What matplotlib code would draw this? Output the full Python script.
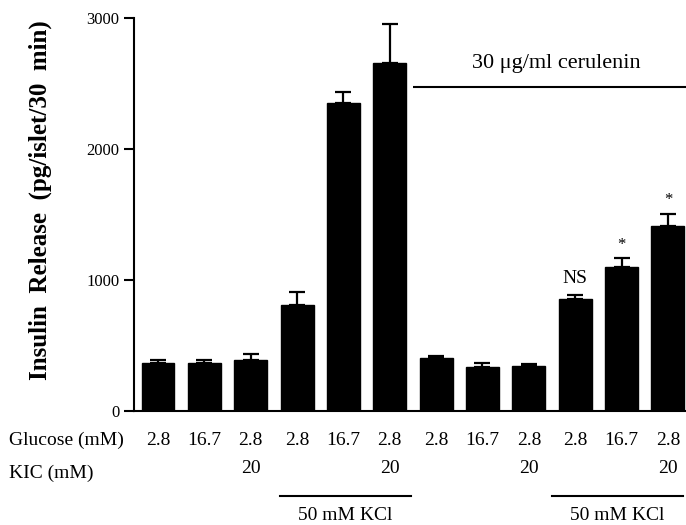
"""Insulin release bar chart, with and without cerulenin."""
import numpy as np
import matplotlib
matplotlib.use('Agg')
import matplotlib.pyplot as plt

plt.rcParams['font.family'] = ['Liberation Serif', 'DejaVu Serif']

# data
glucose = ['2.8', '16.7', '2.8', '2.8', '16.7', '2.8',
           '2.8', '16.7', '2.8', '2.8', '16.7', '2.8']
kic = ['', '', '20', '', '', '20', '', '', '20', '', '', '20']
release = [369, 369, 387, 811, 2349, 2659, 402, 333, 344, 855, 1102, 1410]
sem = [20, 23, 46, 95, 86, 293, 20, 36, 17, 33, 68, 96]
marks = ['', '', '', '', '', '', '', '', '', 'NS', '*', '*']

x = np.arange(len(release))

fig = plt.figure(figsize=(6.86, 5.25), dpi=100)
ax = fig.add_axes([0.1953, 0.2171, 0.8047, 0.7486])

ax.bar(x, release, width=0.71, color='black', edgecolor='black')
ax.errorbar(x, release, yerr=[np.zeros(len(sem)), sem], fmt='none',
            ecolor='black', elinewidth=1.6, capsize=5.5, capthick=1.6)

ax.set_xlim(-0.518, 11.39)
ax.set_ylim(0, 3000)
ax.set_yticks([0, 1000, 2000, 3000])
ax.set_xticks([])
ax.spines['top'].set_visible(False)
ax.spines['right'].set_visible(False)
ax.spines['left'].set_linewidth(1.5)
ax.spines['bottom'].set_linewidth(1.5)
ax.tick_params(axis='y', direction='out', length=7, width=1.5, pad=3.5,
               labelsize=12)

# significance marks above the error bars
for i, m in enumerate(marks):
    if m == 'NS':
        ax.text(x[i], release[i] + sem[i] + 60, m, ha='center', va='bottom',
                fontsize=14)
    elif m:
        ax.text(x[i], release[i] + sem[i] + 40, m, ha='center', va='bottom',
                fontsize=12)

# cerulenin bracket
ax.hlines(2470, 5.5, 11.39, color='black', linewidth=1.5, clip_on=False)
ax.text(8.6, 2656, '30 \u03bcg/ml cerulenin', ha='center', va='center',
        fontsize=16)

# condition rows under the bars
trans = ax.get_xaxis_transform()
for i in range(len(x)):
    ax.text(x[i], -0.0738, glucose[i], transform=trans, ha='center',
            va='center', fontsize=14)
    if kic[i]:
        ax.text(x[i], -0.145, kic[i], transform=trans, ha='center',
                va='center', fontsize=14)

fig.text(9 / 686, 1 - 440 / 525, 'Glucose (mM)', ha='left', va='center',
         fontsize=14)
fig.text(9 / 686, 1 - 473 / 525, 'KIC (mM)', ha='left', va='center',
         fontsize=14)

# KCl brackets
for lo, hi in [(2.63, 5.46), (8.5, 11.33)]:
    ax.plot([lo, hi], [-0.216, -0.216], color='black', linewidth=1.5,
            transform=trans, clip_on=False)
    ax.text((lo + hi) / 2, -0.265, '50 mM KCl', transform=trans,
            ha='center', va='center', fontsize=14)

fig.text(40 / 686, 1 - 200 / 525, 'Insulin  Release  (pg/islet/30  min)',
         rotation=90, ha='center', va='center', fontsize=18,
         fontweight='bold')

fig.savefig('out.png', dpi=100)
